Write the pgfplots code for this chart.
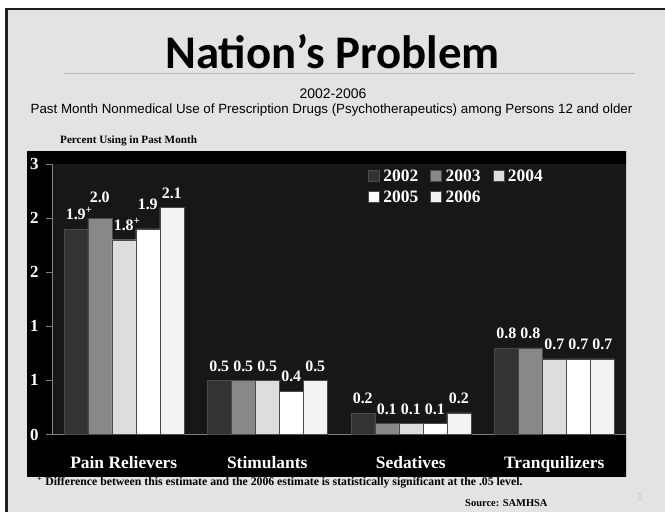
\documentclass[border=0pt]{standalone}
\usepackage{fontspec}
\setmainfont{Liberation Serif}
\newfontfamily\titlefont{Carlito}
\newfontfamily\arialfont{Liberation Sans}
\usepackage{pgfplots}
\pgfplotsset{compat=1.18}
\definecolor{slidebg}{HTML}{E3E3E3}
\definecolor{plotbg}{HTML}{171717}
\definecolor{cA}{HTML}{333333}
\definecolor{cB}{HTML}{888888}
\definecolor{cC}{HTML}{DDDDDD}
\definecolor{cD}{HTML}{FFFFFF}
\definecolor{cE}{HTML}{F3F3F3}
\definecolor{framec}{HTML}{1E1E1E}
\definecolor{edgec}{HTML}{4A4A4A}
\pgfplotsset{sq/.style={legend image code/.code={\draw[##1] (0bp,-5.5bp) rectangle (11bp,5.5bp);}}}
\begin{document}
\begin{tikzpicture}[x=1bp,y=1bp]
\useasboundingbox (0,0) rectangle (665,512);
\fill[white] (0,0) rectangle (665,512);
\fill[slidebg] (5,0) rectangle (665,504);
\fill[framec] (5,0) rectangle (7.5,504);
\fill[framec] (5,501.5) rectangle (665,504);
\draw[gray!55, line width=0.7bp] (64,439) -- (635,439);
\node[font=\titlefont\bfseries\fontsize{47}{50}\selectfont, anchor=base, inner sep=0] at (332.5,443) {Nation’s Problem};
\node[font=\arialfont\fontsize{14}{16}\selectfont, anchor=base, inner sep=0] at (333,413) {2002-2006};
\node[font=\arialfont\fontsize{13.4}{15}\selectfont, anchor=base, inner sep=0] at (331.5,398) {Past Month Nonmedical Use of Prescription Drugs (Psychotherapeutics) among Persons 12 and older};
\node[font=\bfseries\fontsize{11.2}{13}\selectfont, anchor=base west, inner sep=0] at (60,368) {Percent Using in Past Month};
\fill[black] (27,35) rectangle (626,361);
\draw[gray!45, line width=0.8bp] (626,35) -- (626,361);
\node[anchor=base west, inner sep=0, font=\bfseries\fontsize{11.8}{13}\selectfont] at (37,26) {\textsuperscript{+} Difference between this estimate and the 2006 estimate is statistically significant at the .05 level.};
\node[anchor=base west, inner sep=0, font=\bfseries\fontsize{10.5}{12}\selectfont] at (465,5) {Source: SAMHSA};
\node[anchor=base, inner sep=0, text=black!22, font=\arialfont\fontsize{11}{12}\selectfont] at (640,11) {1};
\begin{axis}[
  at={(52bp,77.5bp)}, anchor=south west,
  scale only axis, width=574bp, height=270.5bp,
  xmin=-0.5, xmax=3.5, ymin=0, ymax=2.5,
  ybar=0pt, bar width=24bp,
  axis background/.style={fill=plotbg},
  axis x line*=bottom, axis y line*=left,
  axis line style={draw=gray, line width=0.8bp},
  xtick={0,1,2,3},
  xticklabels={Pain Relievers, Stimulants, Sedatives, Tranquilizers},
  x tick style={draw=none},
  ytick={0,0.5,1,1.5,2,2.5},
  yticklabels={\textbf{0},\textbf{1},\textbf{1},\textbf{2},\textbf{2},\textbf{3}},
  y tick style={draw=gray, line width=0.8bp},
  tick align=outside, major tick length=6bp,
  yticklabel style={text=white, font=\bfseries\fontsize{17}{18}\selectfont, xshift=-4bp},
  xticklabel style={text=white, font=\bfseries\fontsize{17.5}{19}\selectfont, anchor=base, yshift=-28.5bp},
  nodes near coords, point meta=explicit symbolic,
  every node near coord/.append style={text=white, font=\bfseries\fontsize{16}{17}\selectfont, yshift=5.5bp},
  legend columns=3,
  legend style={at={(0.545,0.995)}, anchor=north west, draw=none, fill=none, text=white,
    font=\bfseries\fontsize{17.5}{19}\selectfont, row sep=4bp,
    /tikz/every odd column/.append style={column sep=2bp},
    /tikz/every even column/.append style={column sep=10bp}},
  clip=false,
]
\addplot[sq, fill=cA, draw=edgec] coordinates {(0,1.9) [1.9\rlap{\textsuperscript{+}}] (1,0.5) [0.5] (2,0.2) [0.2] (3,0.8) [0.8]};
\addplot[sq, fill=cB, draw=edgec] coordinates {(0,2.0) [\raisebox{7bp}{2.0}] (1,0.5) [0.5] (2,0.1) [0.1] (3,0.8) [0.8]};
\addplot[sq, fill=cC, draw=edgec] coordinates {(0,1.8) [1.8\rlap{\textsuperscript{+}}] (1,0.5) [0.5] (2,0.1) [0.1] (3,0.7) [0.7]};
\addplot[sq, fill=cD, draw=edgec] coordinates {(0,1.9) [\raisebox{10bp}{1.9}] (1,0.4) [0.4] (2,0.1) [0.1] (3,0.7) [0.7]};
\addplot[sq, fill=cE, draw=edgec] coordinates {(0,2.1) [2.1] (1,0.5) [0.5] (2,0.2) [0.2] (3,0.7) [0.7]};
\legend{2002,2003,2004,2005,2006}
\end{axis}
\end{tikzpicture}
\end{document}
